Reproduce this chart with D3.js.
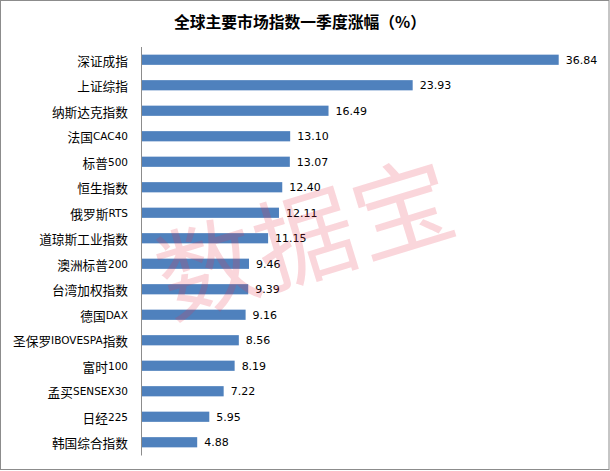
<!DOCTYPE html>
<html>
<head>
<meta charset="utf-8">
<script src="https://cdn.jsdelivr.net/npm/d3@7"></script>
<style>
  html, body { margin: 0; padding: 0; background: #fff; }
  svg { display: block; }
</style>
</head>
<body>
<svg id="chart" width="610" height="471"></svg>
<script>
const title = "全球主要市场指数一季度涨幅（%）";
const categories = ["深证成指","上证综指","纳斯达克指数","法国CAC40","标普500","恒生指数","俄罗斯RTS","道琼斯工业指数","澳洲标普200","台湾加权指数","德国DAX","圣保罗IBOVESPA指数","富时100","孟买SENSEX30","日经225","韩国综合指数"];
const values = [36.84,23.93,16.49,13.10,13.07,12.40,12.11,11.15,9.46,9.39,9.16,8.56,8.19,7.22,5.95,4.88];
const watermark = "数据宝";

const svg = d3.select("#chart");
const W = 610, H = 471;

svg.append("rect").attr("x",0).attr("y",0).attr("width",W).attr("height",H).attr("fill","#fff");
svg.append("rect").attr("x",0.5).attr("y",0.5).attr("width",608.5).attr("height",469)
  .attr("fill","none").attr("stroke","#8c8c8c").attr("stroke-width",1);

svg.append("text").attr("x",300).attr("y",21)
  .attr("text-anchor","middle").attr("dominant-baseline","central")
  .attr("font-family","'Noto Sans CJK SC', sans-serif").attr("font-weight","bold")
  .attr("font-size",15.8).attr("fill","#000").text(title);

const x = d3.scaleLinear().domain([0, 36.84]).range([142, 558.7]);
const y = d3.scaleBand().domain(categories).range([47, 455]).paddingInner(0.6).paddingOuter(0.3);

const g = svg.append("g");
g.selectAll("rect.bar").data(values).join("rect").attr("class","bar")
  .attr("x", x(0)).attr("y",(d,i)=>y(categories[i]))
  .attr("width", d=>x(d)-x(0)).attr("height", y.bandwidth())
  .attr("fill","#4f81bd");

// axis line
svg.append("line").attr("x1",141.5).attr("x2",141.5).attr("y1",47).attr("y2",455.5)
  .attr("stroke","#8c8c8c").attr("stroke-width",1);

// category labels with mixed CJK/Latin runs
function runs(s){
  const out=[]; let cur="", curLatin=null;
  for(const ch of s){
    const lat=/[\x00-\x7F]/.test(ch);
    if(curLatin===null||lat===curLatin){cur+=ch;curLatin=lat;}
    else{out.push({t:cur,lat:curLatin});cur=ch;curLatin=lat;}
  }
  if(cur) out.push({t:cur,lat:curLatin});
  return out;
}
const lab = svg.append("g").selectAll("text").data(categories).join("text")
  .attr("x",128).attr("y",d=>y(d)+y.bandwidth()/2)
  .attr("text-anchor","end").attr("dominant-baseline","central")
  .attr("font-family","'Noto Sans CJK SC', sans-serif").attr("font-size",12.7).attr("fill","#000");
lab.each(function(d){
  const t=d3.select(this);
  runs(d).forEach(r=>{
    const ts=t.append("tspan").text(r.t);
    if(r.lat) ts.attr("font-family","'DejaVu Sans', sans-serif").attr("font-size",10.5);
  });
});

// value labels
svg.append("g").selectAll("text").data(values).join("text")
  .attr("x",d=>x(d)+7).attr("y",(d,i)=>y(categories[i])+y.bandwidth()/2+0.5)
  .attr("dominant-baseline","central")
  .attr("font-family","'DejaVu Sans', sans-serif").attr("font-size",11).attr("fill","#000")
  .text(d=>d3.format(".2f")(d));

// watermark
svg.append("text").attr("transform","translate(304,232) rotate(-17)")
  .attr("text-anchor","middle").attr("dominant-baseline","central")
  .attr("font-family","'Noto Sans CJK SC', sans-serif").attr("font-size",100)
  .attr("letter-spacing",2)
  .attr("fill","#e8304a").attr("fill-opacity",0.2).text(watermark);
</script>
</body>
</html>
